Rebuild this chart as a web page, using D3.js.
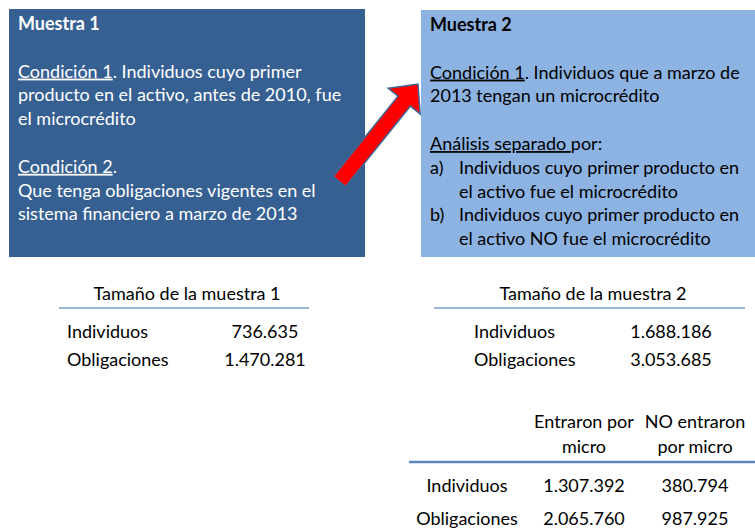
<!DOCTYPE html>
<html>
<head>
<meta charset="utf-8">
<script src="https://cdn.jsdelivr.net/npm/d3@7"></script>
<style>
  body { margin: 0; background: #fff; }
  svg text { font-family: Lato, "Open Sans", sans-serif; }
</style>
</head>
<body>
<div id="chart"></div>
<script>
// --- data ---
const muestra1Texto = [
  [{ t: 'Muestra 1', b: true }],
  [],
  [{ t: 'Condición 1', u: true }, { t: '. Individuos cuyo primer' }],
  [{ t: 'producto en el activo, antes de 2010, fue' }],
  [{ t: 'el microcrédito' }],
  [],
  [{ t: 'Condición 2', u: true }, { t: '.' }],
  [{ t: 'Que tenga obligaciones vigentes en el' }],
  [{ t: 'sistema financiero a marzo de 2013' }],
];
const muestra2Texto = [
  [{ t: 'Muestra 2', b: true }],
  [],
  [{ t: 'Condición 1', u: true }, { t: '. Individuos que a marzo de' }],
  [{ t: '2013 tengan un microcrédito' }],
  [],
  [{ t: 'Análisis separado ', u: true }, { t: 'por:' }],
  [{ t: 'Individuos cuyo primer producto en', bullet: 'a)' }],
  [{ t: 'el activo fue el microcrédito', indent: true }],
  [{ t: 'Individuos cuyo primer producto en', bullet: 'b)' }],
  [{ t: 'el activo NO fue el microcrédito', indent: true }],
];

const filas = ['Individuos', 'Obligaciones'];
const muestra1 = [736635, 1470281];
const muestra2 = [1688186, 3053685];
const columnasSeparado = [['Entraron por', 'micro'], ['NO entraron', 'por micro']];
const entraronMicro = [1307392, 2065760];
const noEntraronMicro = [380794, 987925];

// --- setup ---
const width = 755, height = 531;
const fmt = d3.formatLocale({ decimal: ',', thousands: '.', grouping: [3], currency: ['$', ''] }).format(',d');

const svg = d3.select('#chart').append('svg')
  .attr('width', width)
  .attr('height', height);

const fontSize = 18;

/**
 * Draw a coloured box with lines of text
 */
function textBox(lines, box, fill, color) {
  svg.append('rect')
    .attr('x', box.x).attr('y', box.y)
    .attr('width', box.w).attr('height', box.h)
    .attr('fill', fill);

  const lineY = d3.scaleLinear().domain([0, 1]).range([box.y + 21, box.y + 21 + 23.8]);

  lines.forEach((segs, i) => {
    if (!segs.length) return;
    const first = segs[0];
    if (first.bullet) {
      svg.append('text')
        .attr('x', box.x + 9).attr('y', lineY(i))
        .attr('font-size', fontSize).attr('fill', color)
        .text(first.bullet);
    }
    const txt = svg.append('text')
      .attr('x', box.x + 9 + (first.bullet || first.indent ? 29 : 0))
      .attr('y', lineY(i))
      .attr('font-size', fontSize)
      .attr('fill', color);
    segs.forEach(s => {
      txt.append('tspan')
        .attr('font-weight', s.b ? 700 : 400)
        .attr('text-decoration', s.u ? 'underline' : null)
        .style('white-space', 'pre')
        .text(s.t);
    });
  });
}

textBox(muestra1Texto, { x: 9, y: 9, w: 356, h: 248 }, '#376092', '#ffffff');
textBox(muestra2Texto, { x: 421, y: 10, w: 334, h: 247 }, '#8db3e2', '#000000');

// --- arrow between boxes ---
const arrowFrom = [339.5, 181.5], arrowTo = [418, 84];
const dx = arrowTo[0] - arrowFrom[0], dy = arrowTo[1] - arrowFrom[1];
const len = Math.hypot(dx, dy);
const shaftW = 8, headW = 20.5, headL = 22;
const arrowShape = [
  [0, -shaftW], [len - headL, -shaftW], [len - headL, -headW], [len, 0],
  [len - headL, headW], [len - headL, shaftW], [0, shaftW],
];
svg.append('path')
  .attr('d', d3.line()(arrowShape) + 'Z')
  .attr('transform', `translate(${arrowFrom[0]},${arrowFrom[1]}) rotate(${Math.atan2(dy, dx) * 180 / Math.PI})`)
  .attr('fill', '#ff0000')
  .attr('stroke', '#3f6797')
  .attr('stroke-width', 1.5);

// --- summary tables ---
function sizeTable(title, values, cfg) {
  svg.append('text')
    .attr('x', cfg.titleX).attr('y', 300)
    .attr('text-anchor', 'middle')
    .attr('font-size', fontSize)
    .text(title);

  svg.append('line')
    .attr('x1', cfg.lineX[0]).attr('x2', cfg.lineX[1])
    .attr('y1', 308).attr('y2', 308)
    .attr('stroke', '#7ba0cd').attr('stroke-width', 1.5);

  const y = d3.scalePoint().domain(filas).range([338, 366]);

  svg.selectAll(null)
    .data(filas)
    .enter()
    .append('text')
    .attr('x', cfg.labelX)
    .attr('y', d => y(d))
    .attr('font-size', fontSize)
    .text(d => d);

  svg.selectAll(null)
    .data(values)
    .enter()
    .append('text')
    .attr('x', cfg.valueX)
    .attr('y', (d, i) => y(filas[i]))
    .attr('text-anchor', 'middle')
    .attr('font-size', fontSize)
    .text(d => fmt(d));
}

sizeTable('Tamaño de la muestra 1', muestra1, { titleX: 187, lineX: [59, 309], labelX: 67, valueX: 265 });
sizeTable('Tamaño de la muestra 2', muestra2, { titleX: 593, lineX: [434, 745], labelX: 474, valueX: 671 });

// --- separated table ---
const colX = d3.scalePoint().domain([0, 1]).range([584, 695]);
const rowY = d3.scalePoint().domain(filas).range([492, 525]);

columnasSeparado.forEach((lines, c) => {
  const t = svg.append('text')
    .attr('text-anchor', 'middle')
    .attr('font-size', fontSize);
  lines.forEach((l, j) => {
    t.append('tspan')
      .attr('x', colX(c))
      .attr('y', 428 + j * 25)
      .text(l);
  });
});

svg.append('line')
  .attr('x1', 409).attr('x2', 755)
  .attr('y1', 462).attr('y2', 462)
  .attr('stroke', '#5b85bb').attr('stroke-width', 2.5);

svg.selectAll(null)
  .data(filas)
  .enter()
  .append('text')
  .attr('x', 467)
  .attr('y', d => rowY(d))
  .attr('text-anchor', 'middle')
  .attr('font-size', fontSize)
  .text(d => d);

[entraronMicro, noEntraronMicro].forEach((serie, c) => {
  svg.selectAll(null)
    .data(serie)
    .enter()
    .append('text')
    .attr('x', colX(c))
    .attr('y', (d, i) => rowY(filas[i]))
    .attr('text-anchor', 'middle')
    .attr('font-size', fontSize)
    .text(d => fmt(d));
});
</script>
</body>
</html>
